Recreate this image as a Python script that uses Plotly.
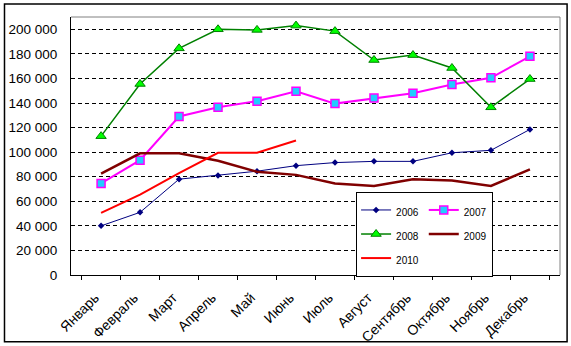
import plotly.graph_objects as go

# Monthly values by year
months = ["Январь", "Февраль", "Март", "Апрель", "Май", "Июнь",
          "Июль", "Август", "Сентябрь", "Октябрь", "Ноябрь", "Декабрь"]

v2006 = [40000, 51000, 78000, 81000, 84500, 89000, 91500, 92500, 92500, 99500, 101500, 118500]
v2007 = [74500, 93500, 129000, 136500, 141500, 149500, 139500, 144000, 148000, 155000, 160500, 178000]
v2008 = [113000, 155500, 184500, 200000, 199500, 203000, 198500, 175000, 179000, 168500, 136500, 159500]
v2009 = [82500, 99000, 99000, 93000, 84000, 81500, 74500, 72500, 78000, 77000, 72500, 86000]
v2010 = [50500, 65500, 83000, 99500, 99500, 109500]

y_ticks = [0, 20000, 40000, 60000, 80000, 100000, 120000, 140000, 160000, 180000, 200000]
y_labels = ["0", "20\u00a0000", "40\u00a0000", "60\u00a0000", "80\u00a0000", "100\u00a0000",
            "120\u00a0000", "140\u00a0000", "160\u00a0000", "180\u00a0000", "200\u00a0000"]

FONT = "Arial, Liberation Sans, sans-serif"


def lbl(t):
    return "<span style='font-size:10px'>" + t + "</span>"


fig = go.Figure()

fig.add_trace(go.Scatter(
    x=months, y=v2006, name=lbl("2006"), legendgroup="a", mode="lines+markers",
    line=dict(color="#000080", width=1),
    marker=dict(symbol="diamond", size=5, color="#000080")))
fig.add_trace(go.Scatter(
    x=months, y=v2007, name=lbl("2007"), legendgroup="b", mode="lines+markers",
    line=dict(color="#FF00FF", width=2),
    marker=dict(symbol="square", size=8, color="#22CCFF",
                line=dict(color="#FF00FF", width=1.5))))
fig.add_trace(go.Scatter(
    x=months, y=v2008, name=lbl("2008"), legendgroup="a", mode="lines+markers",
    line=dict(color="#008000", width=1.5),
    marker=dict(symbol="triangle-up", size=9, color="#00FF00",
                line=dict(color="#008000", width=1))))
fig.add_trace(go.Scatter(
    x=months, y=v2009, name=lbl("2009"), legendgroup="b", mode="lines",
    line=dict(color="#800000", width=2.5)))
fig.add_trace(go.Scatter(
    x=months[:len(v2010)], y=v2010, name=lbl("2010"), legendgroup="a", mode="lines",
    line=dict(color="#FF0000", width=2)))

# chart area frame and the grey plot-area border (top and right)
fig.add_shape(type="rect", xref="paper", yref="paper",
              x0=-0.136, x1=1.0145, y0=-0.259, y1=1.05,
              line=dict(color="black", width=1.5), fillcolor="rgba(0,0,0,0)")
fig.add_shape(type="line", xref="paper", yref="paper", x0=0, x1=1, y0=1, y1=1,
              line=dict(color="#808080", width=1))
fig.add_shape(type="line", xref="paper", yref="paper", x0=1, x1=1, y0=0, y1=1,
              line=dict(color="#808080", width=1))

fig.update_layout(
    width=571, height=346,
    margin=dict(l=71, r=11, t=17, b=71),
    paper_bgcolor="white", plot_bgcolor="white",
    font=dict(family=FONT, color="black"),
    showlegend=True,
    legend=dict(
        orientation="h", traceorder="grouped",
        x=0.583, y=0.322, xanchor="left", yanchor="top",
        bgcolor="white", bordercolor="black", borderwidth=1,
        font=dict(family=FONT, size=16.2, color="black"),
        tracegroupgap=0,
    ),
    xaxis=dict(
        type="category", categoryorder="array", categoryarray=months,
        tickson="boundaries", ticks="outside", ticklen=4, tickcolor="black",
        tickangle=-45, tickfont=dict(family=FONT, size=14, color="black"),
        ticklabelstandoff=8, ticklabelshift=-6,
        showline=True, linecolor="black", linewidth=1,
        showgrid=False, zeroline=False, fixedrange=True, automargin=False,
    ),
    yaxis=dict(
        range=[0, 210000], tickvals=y_ticks, ticktext=y_labels,
        ticks="", ticklabelstandoff=10,
        tickfont=dict(family=FONT, size=13.5, color="black"),
        showline=True, linecolor="black", linewidth=1,
        showgrid=True, gridcolor="black", gridwidth=1, griddash="4px,3px",
        zeroline=False, fixedrange=True, automargin=False,
    ),
)

fig.write_html("out.html")
